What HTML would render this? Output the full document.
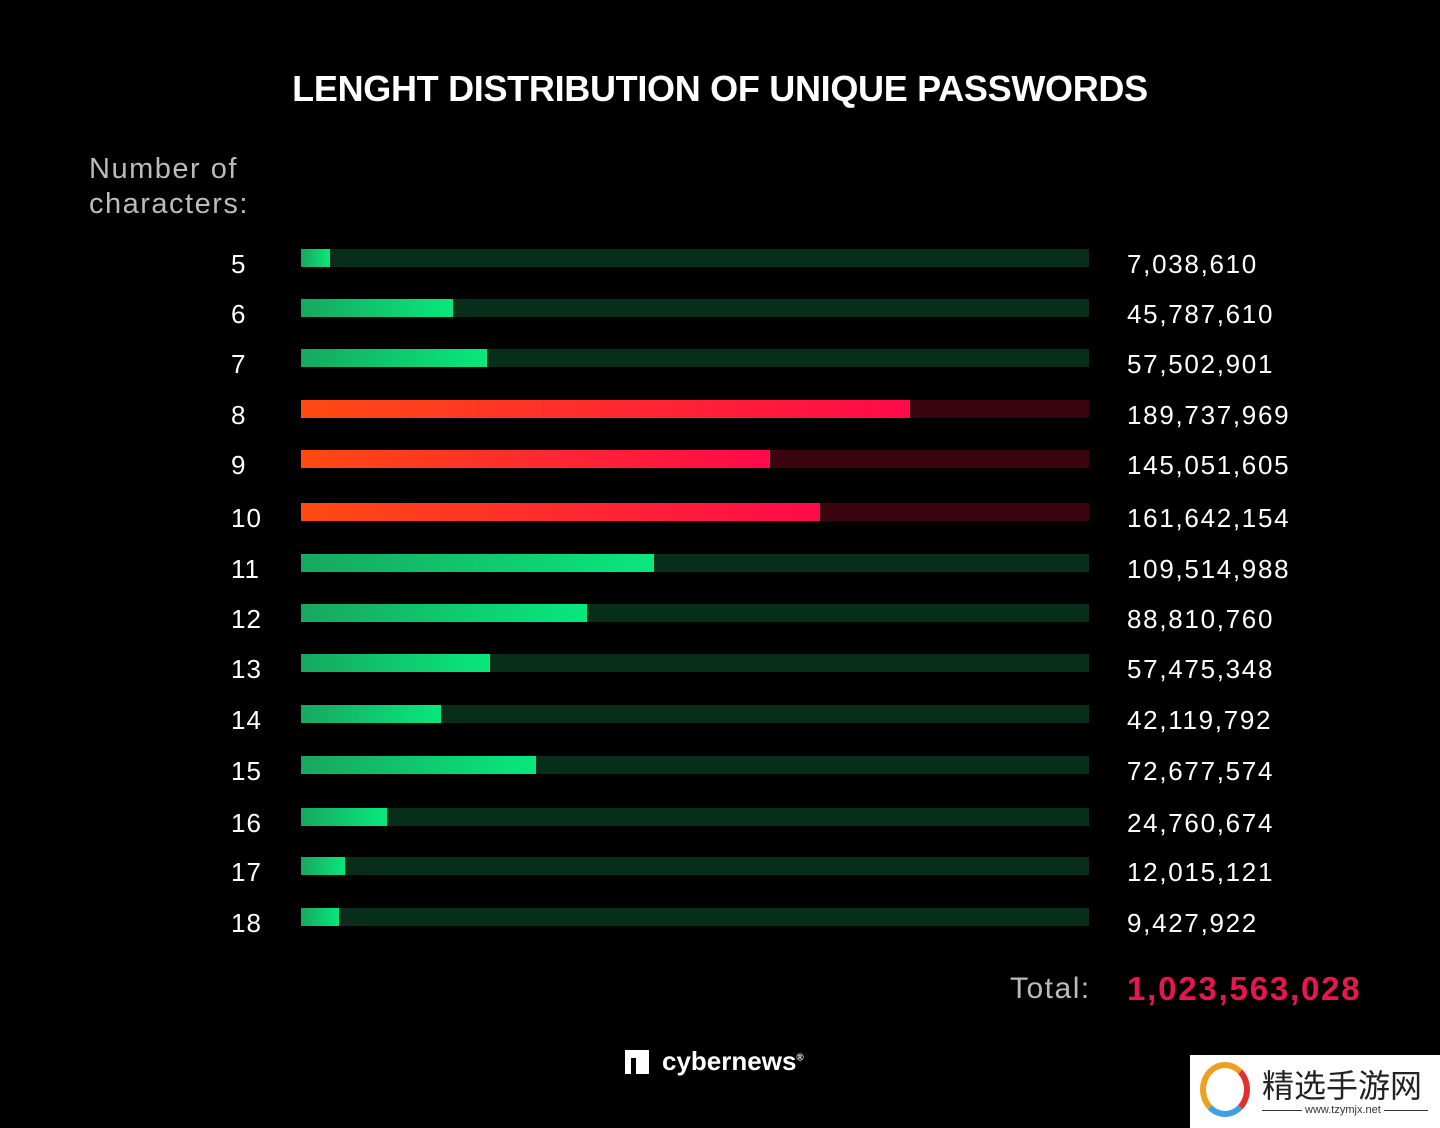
<!DOCTYPE html>
<html><head><meta charset="utf-8"><style>
body{margin:0;width:1440px;height:1128px;background:#000;position:relative;overflow:hidden;font-family:"Liberation Sans",sans-serif;color:#fff}
.t{position:absolute;left:0;width:1440px;text-align:center;top:68px;font-size:36px;font-weight:bold;letter-spacing:-0.3px}
.ax{position:absolute;left:89px;top:152px;font-size:29px;color:#bbb;line-height:35px;letter-spacing:1.5px}
.row{position:absolute;left:0;width:1440px;height:18px}
.lab{position:absolute;left:231px;top:0px;font-size:26px;letter-spacing:1px}
.bg{position:absolute;left:301px;width:788px;top:0;height:18px}
.fg{position:absolute;left:301px;top:0;height:18px}
.val{position:absolute;left:1127px;top:0px;font-size:26px;letter-spacing:1.7px}
.g .bg{background:#062e1a}.g .fg{background:linear-gradient(90deg,#17a85f,#08e87c)}
.r .bg{background:#3a0410}.r .fg{background:linear-gradient(90deg,#ff4a12,#ff0a4a)}
</style></head><body>
<div class="t">LENGHT DISTRIBUTION OF UNIQUE PASSWORDS</div>
<div class="ax">Number of<br>characters:</div>
<div class="row g" style="top:249px"><span class="lab">5</span><div class="bg"></div><div class="fg" style="width:29px"></div><span class="val">7,038,610</span></div>
<div class="row g" style="top:299px"><span class="lab">6</span><div class="bg"></div><div class="fg" style="width:152px"></div><span class="val">45,787,610</span></div>
<div class="row g" style="top:349px"><span class="lab">7</span><div class="bg"></div><div class="fg" style="width:186px"></div><span class="val">57,502,901</span></div>
<div class="row r" style="top:400px"><span class="lab">8</span><div class="bg"></div><div class="fg" style="width:609px"></div><span class="val">189,737,969</span></div>
<div class="row r" style="top:450px"><span class="lab">9</span><div class="bg"></div><div class="fg" style="width:469px"></div><span class="val">145,051,605</span></div>
<div class="row r" style="top:503px"><span class="lab">10</span><div class="bg"></div><div class="fg" style="width:519px"></div><span class="val">161,642,154</span></div>
<div class="row g" style="top:554px"><span class="lab">11</span><div class="bg"></div><div class="fg" style="width:353px"></div><span class="val">109,514,988</span></div>
<div class="row g" style="top:604px"><span class="lab">12</span><div class="bg"></div><div class="fg" style="width:286px"></div><span class="val">88,810,760</span></div>
<div class="row g" style="top:654px"><span class="lab">13</span><div class="bg"></div><div class="fg" style="width:189px"></div><span class="val">57,475,348</span></div>
<div class="row g" style="top:705px"><span class="lab">14</span><div class="bg"></div><div class="fg" style="width:140px"></div><span class="val">42,119,792</span></div>
<div class="row g" style="top:756px"><span class="lab">15</span><div class="bg"></div><div class="fg" style="width:235px"></div><span class="val">72,677,574</span></div>
<div class="row g" style="top:808px"><span class="lab">16</span><div class="bg"></div><div class="fg" style="width:86px"></div><span class="val">24,760,674</span></div>
<div class="row g" style="top:857px"><span class="lab">17</span><div class="bg"></div><div class="fg" style="width:44px"></div><span class="val">12,015,121</span></div>
<div class="row g" style="top:908px"><span class="lab">18</span><div class="bg"></div><div class="fg" style="width:38px"></div><span class="val">9,427,922</span></div>
<div style="position:absolute;left:1010px;top:972px;font-size:30px;color:#bbb;letter-spacing:1.5px">Total:</div>
<div style="position:absolute;left:1127px;top:970px;font-size:33px;font-weight:bold;color:#e8164f;letter-spacing:1.8px">1,023,563,028</div>
<div style="position:absolute;left:625px;top:1050px;width:24px;height:24px;background:#fff"></div>
<div style="position:absolute;left:631px;top:1058px;width:5px;height:16px;background:#000"></div>
<div style="position:absolute;left:662px;top:1046px;font-size:26px;font-weight:bold">cybernews<sup style="font-size:10px">®</sup></div>
<div style="position:absolute;left:1190px;top:1055px;width:250px;height:73px;background:#fff"></div>
<div style="position:absolute;left:1200px;top:1062px;width:50px;height:55px;border-radius:50%;border:6px solid #f0a020;border-right-color:#e03030;border-bottom-color:#40a0e0;box-sizing:border-box"></div>
<div style="position:absolute;left:1262px;top:1062px;font-size:32px;color:#222;font-family:'Noto Sans CJK SC',sans-serif;line-height:44px;white-space:nowrap">精选手游网</div>
<div style="position:absolute;left:1262px;top:1110px;width:166px;height:1px;background:#333"></div>
<div style="position:absolute;left:1302px;top:1104px;font-size:11px;color:#333;background:#fff;padding:0 3px">www.tzymjx.net</div>
</body></html>
